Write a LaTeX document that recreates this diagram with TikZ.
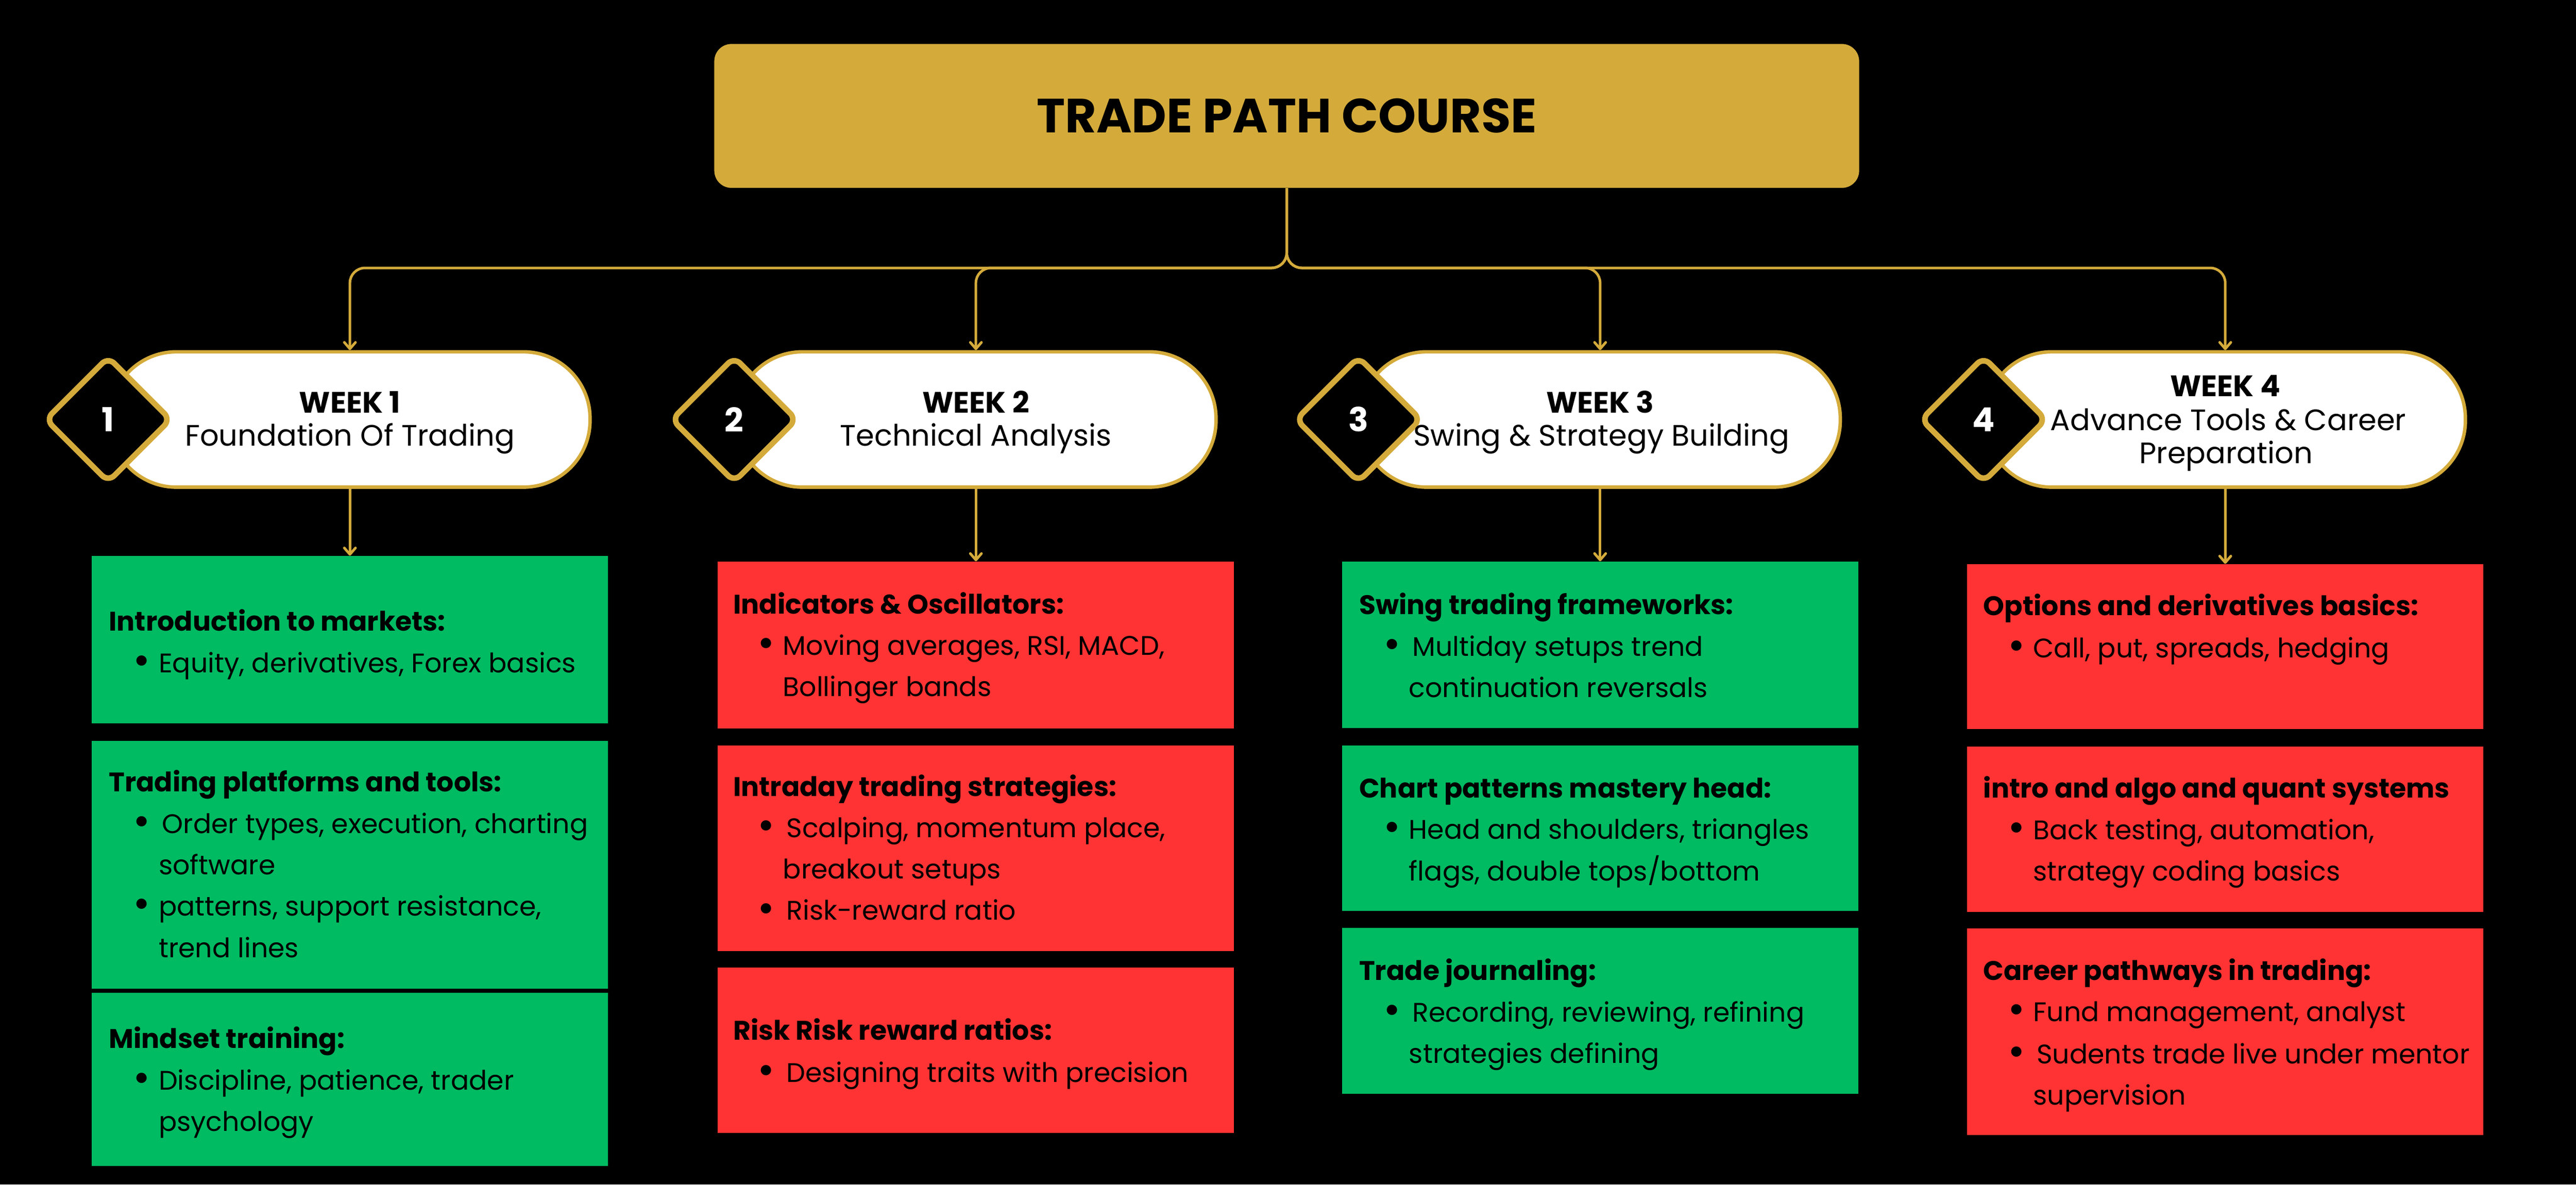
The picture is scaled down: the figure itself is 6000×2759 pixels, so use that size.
\documentclass[tikz,border=0pt]{standalone}
\usepackage{fontspec}
\setmainfont{Poppins}
\usetikzlibrary{arrows.meta,shapes.geometric}
\definecolor{gold}{HTML}{D4AB3B}
\definecolor{mgreen}{HTML}{00BB62}
\definecolor{mred}{HTML}{FF3333}
\newlength{\bw}\setlength{\bw}{0.59cm}
\newcommand\bigdot{\raisebox{-0.05cm}{\scalebox{1.55}{\textbullet}}}
\newcommand\hd[3]{\node[hd] (#1) at (#2) {#3};}
\newcommand\bl[3]{\node[bt] (#1) at (#2) {\makebox[\bw][l]{\bigdot}#3};}
\newcommand\ct[3]{\node[bt] (#1) at (#2) {\hspace*{\bw}#3};}
\tikzset{
 conn/.style={draw=gold, line width=0.06cm},
 tip/.style={-{Straight Barb[length=0.15cm,width=0.26cm,round]}},
 pill/.style={draw=gold, fill=white, line width=0.08cm, rounded corners=1.55cm, minimum width=11.18cm, minimum height=3.15cm, inner sep=0},
 dia/.style={diamond, draw=gold, fill=black, line width=0.13cm, minimum size=2.95cm, inner sep=0, rounded corners=0.2cm, text=white, font=\bfseries\fontsize{21.9}{22}\selectfont},
 gbox/.style={fill=mgreen, minimum width=12.02cm, inner sep=0},
 rbox/.style={fill=mred, minimum width=12.02cm, inner sep=0},
 hd/.style={anchor=base west, inner sep=0, font=\bfseries\fontsize{17.8}{20}\selectfont},
 bt/.style={anchor=base west, inner sep=0, font=\fontsize{17.8}{20}\selectfont},
 wk/.style={anchor=base, inner sep=0, font=\bfseries\fontsize{19.6}{20}\selectfont},
 ws/.style={anchor=base, inner sep=0, font=\fontsize{19.6}{20}\selectfont},
}
\begin{document}
\begin{tikzpicture}[x=0.01cm,y=-0.01cm]
\useasboundingbox (0,0) rectangle (6000,2759);
\fill[black] (0,0) rectangle (6000,2759);

% title
\node[fill=gold, rounded corners=0.4cm, minimum width=26.65cm, minimum height=3.35cm, inner sep=0, font=\bfseries\fontsize{31.8}{32}\selectfont] (title) at (2997,270) {TRADE PATH COURSE};

% week pills
\node[pill] (w1) at (815,977) {};
\node[pill] (w2) at (2273,977) {};
\node[pill] (w3) at (3727,977) {};
\node[pill] (w4) at (5183,977) {};
\node[dia] (d1) at (252,977) {1};
\node[dia] (d2) at (1710,977) {2};
\node[dia] (d3) at (3164,977) {3};
\node[dia] (d4) at (4620,977) {4};

\node[wk] (w1a) at (815,962) {WEEK 1};
\node[ws] (w1b) at (815,1039) {Foundation Of Trading};
\node[wk] (w2a) at (2273,962) {WEEK 2};
\node[ws] (w2b) at (2273,1039) {Technical Analysis};
\node[wk] (w3a) at (3727,962) {WEEK 3};
\node[ws] (w3b) at (3730,1039) {Swing \& Strategy Building};
\node[wk] (w4a) at (5183,923) {WEEK 4};
\node[ws] (w4b) at (5190,1002) {Advance Tools \& Career};
\node[ws] (w4c) at (5185,1079) {Preparation};

% connectors title -> weeks
\coordinate (j1) at (815,624);
\coordinate (j2) at (2273,624);
\coordinate (j3) at (3727,624);
\coordinate (j4) at (5183,624);
\draw[conn,tip,rounded corners=0.35cm] (title.south) |- (j1) -- (w1.north);
\draw[conn,tip,rounded corners=0.35cm] (title.south) |- (j2) -- (w2.north);
\draw[conn,tip,rounded corners=0.35cm] (title.south) |- (j3) -- (w3.north);
\draw[conn,tip,rounded corners=0.35cm] (title.south) |- (j4) -- (w4.north);

% boxes
\node[gbox, minimum height=3.90cm] (b1a) at (815,1490) {};
\node[gbox, minimum height=5.76cm] (b1b) at (815,2014) {};
\node[gbox, minimum height=4.03cm] (b1c) at (815,2513.5) {};
\node[rbox, minimum height=3.89cm] (b2a) at (2273,1502.5) {};
\node[rbox, minimum height=4.79cm] (b2b) at (2273,1975.5) {};
\node[rbox, minimum height=3.85cm] (b2c) at (2273,2446.5) {};
\node[gbox, minimum height=3.88cm] (b3a) at (3727,1502) {};
\node[gbox, minimum height=3.85cm] (b3b) at (3727,1928.5) {};
\node[gbox, minimum height=3.86cm] (b3c) at (3727,2354) {};
\node[rbox, minimum height=3.84cm] (b4a) at (5183,1506) {};
\node[rbox, minimum height=3.85cm] (b4b) at (5183,1931.5) {};
\node[rbox, minimum height=4.80cm] (b4c) at (5183,2403) {};

% arrows week -> boxes
\draw[conn,tip] (w1.south) -- (b1a.north);
\draw[conn,tip] (w2.south) -- (b2a.north);
\draw[conn,tip] (w3.south) -- (b3a.north);
\draw[conn,tip] (w4.south) -- (b4a.north);

% column 1 texts
\hd{t1a}{253,1469}{Introduction to markets:}
\bl{t1a1}{310,1566}{Equity, derivatives, Forex basics}
\hd{t1b}{253,1844}{Trading platforms and tools:}
\bl{t1b1}{310,1941}{\hspace{0.08cm}Order types, execution, charting}
\ct{t1b2}{310,2037}{software}
\bl{t1b3}{310,2133}{patterns, support resistance,}
\ct{t1b4}{310,2230}{trend lines}
\hd{t1c}{253,2441}{Mindset training:}
\bl{t1c1}{310,2538}{Discipline, patience, trader}
\ct{t1c2}{310,2634}{psychology}

% column 2 texts
\hd{t2a}{1707,1430}{Indicators \& Oscillators:}
\bl{t2a1}{1764,1526}{Moving averages, RSI, MACD,}
\ct{t2a2}{1764,1622}{Bollinger bands}
\hd{t2b}{1707,1854}{Intraday trading strategies:}
\bl{t2b1}{1764,1950}{\hspace{0.08cm}Scalping, momentum place,}
\ct{t2b2}{1764,2047}{breakout setups}
\bl{t2b3}{1764,2143}{\hspace{0.08cm}Risk-reward ratio}
\hd{t2c}{1707,2422}{Risk Risk reward ratios:}
\bl{t2c1}{1764,2520}{\hspace{0.08cm}Designing traits with precision}

% column 3 texts
\hd{t3a}{3165,1431}{Swing trading frameworks:}
\bl{t3a1}{3222,1528}{\hspace{0.08cm}Multiday setups trend}
\ct{t3a2}{3222,1624}{continuation reversals}
\hd{t3b}{3165,1858}{Chart patterns mastery head:}
\bl{t3b1}{3222,1954}{Head and shoulders, triangles}
\ct{t3b2}{3222,2051}{flags, double tops/bottom}
\hd{t3c}{3165,2283}{Trade journaling:}
\bl{t3c1}{3222,2380}{\hspace{0.08cm}Recording, reviewing, refining}
\ct{t3c2}{3222,2476}{strategies defining}

% column 4 texts
\hd{t4a}{4619,1433}{Options and derivatives basics:}
\bl{t4a1}{4676,1532}{Call, put, spreads, hedging}
\hd{t4b}{4619,1858}{intro and algo and quant systems}
\bl{t4b1}{4676,1955}{Back testing, automation,}
\ct{t4b2}{4676,2051}{strategy coding basics}
\hd{t4c}{4619,2283}{Career pathways in trading:}
\bl{t4c1}{4676,2379}{Fund management, analyst}
\bl{t4c2}{4676,2477}{\hspace{0.08cm}Sudents trade live under mentor}
\ct{t4c3}{4676,2573}{supervision}
\end{tikzpicture}
\end{document}
